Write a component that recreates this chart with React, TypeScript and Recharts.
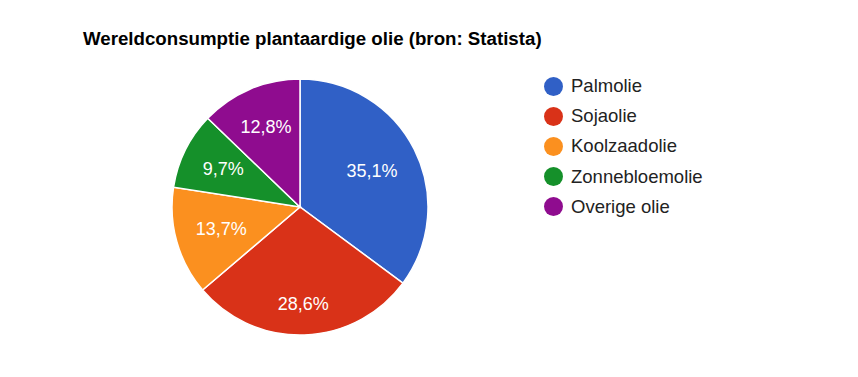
import { PieChart, Pie, Cell, Legend } from "recharts";

const categories = ["Palmolie", "Sojaolie", "Koolzaadolie", "Zonnebloemolie", "Overige olie"];
const shares = [35.1, 28.6, 13.7, 9.7, 12.8];
const colors = ["#3060c6", "#d93218", "#fb901f", "#15902a", "#8f0c8f"];

// label distance from centre, as a share of the radius
const labelRadius = [0.63, 0.76, 0.64, 0.67, 0.68];

const data = categories.map((name, i) => ({ name, value: shares[i] }));

const RADIAN = Math.PI / 180;
const FONT = "'Liberation Sans', Arial, sans-serif";

const renderLabel = (props: any) => {
    const { cx, cy, midAngle, outerRadius, index, value } = props;
    const r = outerRadius * labelRadius[index];
    const x = cx + r * Math.cos(-midAngle * RADIAN);
    const y = cy + r * Math.sin(-midAngle * RADIAN);
    return (
        <text
            x={x}
            y={y}
            fill="#ffffff"
            fontSize={18}
            fontFamily={FONT}
            textAnchor="middle"
            dominantBaseline="central"
        >
            {`${Number(value).toFixed(1).replace(".", ",")}%`}
        </text>
    );
};

const LegendList = () => (
    <div style={{ fontFamily: FONT, fontSize: 18.5, color: "#222222" }}>
        {categories.map((c, i) => (
            <div key={c} style={{ display: "flex", alignItems: "center", height: 30.2 }}>
                <span
                    style={{
                        width: 19,
                        height: 19,
                        borderRadius: "50%",
                        background: colors[i],
                        display: "inline-block",
                        marginRight: 8,
                    }}
                />
                <span>{c}</span>
            </div>
        ))}
    </div>
);

export default function App() {
    return (
        <div style={{ position: "absolute", left: 0, top: 0, width: 858, height: 377, background: "#fff" }}>
            <div
                style={{
                    position: "absolute",
                    left: 83,
                    top: 28,
                    fontFamily: FONT,
                    fontWeight: "bold",
                    fontSize: 18.7,
                    color: "#000",
                    whiteSpace: "nowrap",
                }}
            >
                Wereldconsumptie plantaardige olie (bron: Statista)
            </div>
            <PieChart width={858} height={377} margin={{ top: 0, right: 0, bottom: 0, left: 0 }}>
                <Pie
                    data={data}
                    dataKey="value"
                    nameKey="name"
                    cx={300}
                    cy={207}
                    outerRadius={128}
                    startAngle={90}
                    endAngle={-270}
                    stroke="#ffffff"
                    strokeWidth={1.5}
                    label={renderLabel}
                    labelLine={false}
                    isAnimationActive={false}
                >
                    {data.map((d, i) => (
                        <Cell key={d.name} fill={colors[i]} />
                    ))}
                </Pie>
                <Legend
                    content={() => <LegendList />}
                    wrapperStyle={{ position: "absolute", left: 544, top: 71, width: 250 }}
                />
            </PieChart>
        </div>
    );
}
